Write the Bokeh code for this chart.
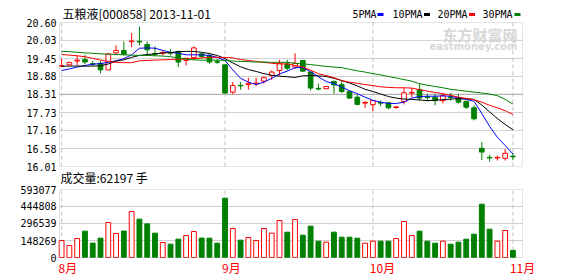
from bokeh.plotting import figure
from bokeh.models import (Range1d, FixedTicker, Label, BoxAnnotation, ColumnDataSource)
from bokeh.embed import file_html
from bokeh.resources import INLINE

# ---------------- data ----------------
title_text = "五粮液[000858] 2013-11-01"
volume_text = "成交量:62197 手"
month_idx = [0, 21, 40, 58]
month_labels = ["8月", "9月", "10月", "11月"]
price_ticks = [16.01, 16.58, 17.16, 17.73, 18.31, 18.88, 19.45, 20.03, 20.60]
volume_ticks = [0, 148269, 296539, 444808, 593077]
ma_names = ["5PMA", "10PMA", "20PMA", "30PMA"]

open_ = [19.21, 19.25, 19.37, 19.42, 19.29, 19.30, 19.09, 19.63, 19.71, 19.99,
         20.00, 19.90, 19.61, 19.62, 19.64, 19.68, 19.39, 19.48, 19.60, 19.55,
         19.35, 19.25, 18.38, 18.60, 18.62, 18.65, 18.73, 18.91, 19.07, 19.28,
         19.18, 19.39, 19.02, 18.50, 18.49, 18.72, 18.62, 18.40, 18.22, 18.03,
         17.98, 18.05, 18.04, 17.89, 18.08, 18.35, 18.46, 18.23, 18.22, 18.11,
         18.23, 18.19, 18.09, 17.88, 16.59, 16.30, 16.28, 16.27, 16.34]
close = [19.22, 19.33, 19.40, 19.34, 19.27, 19.09, 19.60, 19.71, 19.59, 20.01,
         19.98, 19.73, 19.59, 19.64, 19.62, 19.34, 19.46, 19.79, 19.52, 19.34,
         19.33, 18.35, 18.59, 18.58, 18.66, 18.67, 18.84, 19.02, 19.30, 19.14,
         19.30, 19.05, 18.51, 18.48, 18.56, 18.61, 18.40, 18.19, 17.99, 18.05,
         18.11, 18.03, 17.88, 17.91, 18.36, 18.37, 18.19, 18.21, 18.11, 18.27,
         18.21, 18.06, 17.90, 17.53, 16.47, 16.28, 16.30, 16.43, 16.32]
high = [19.44, 19.34, 19.55, 19.57, 19.37, 19.37, 19.62, 19.87, 19.99, 20.26,
        20.47, 19.99, 19.84, 19.71, 19.76, 19.70, 19.47, 19.84, 19.63, 19.62,
        19.44, 19.27, 18.70, 18.70, 18.84, 18.84, 18.88, 19.07, 19.41, 19.41,
        19.62, 19.40, 19.03, 18.65, 18.56, 18.75, 18.75, 18.41, 18.30, 18.11,
        18.12, 18.11, 18.06, 17.93, 18.51, 18.51, 18.65, 18.33, 18.33, 18.33,
        18.35, 18.33, 18.10, 17.96, 16.79, 16.39, 16.36, 16.57, 16.44]
low = [19.20, 19.24, 19.23, 19.28, 19.21, 18.98, 19.09, 19.60, 19.55, 19.81,
       19.87, 19.55, 19.52, 19.55, 19.55, 19.18, 19.23, 19.41, 19.45, 19.28,
       19.28, 18.34, 18.31, 18.46, 18.46, 18.57, 18.65, 18.77, 18.91, 19.07,
       19.12, 19.03, 18.43, 18.43, 18.49, 18.33, 18.36, 18.17, 17.96, 17.88,
       17.77, 17.93, 17.83, 17.85, 17.99, 18.22, 18.11, 18.09, 17.96, 18.02,
       18.11, 18.01, 17.85, 17.48, 16.22, 16.17, 16.20, 16.20, 16.21]
volume = [148300, 105200, 166100, 229800, 125400, 168900, 305200, 209100, 230400, 401300,
          334200, 293800, 212300, 130900, 116300, 160200, 191800, 226700, 169300, 168800,
          125200, 517400, 252900, 151200, 174400, 148100, 253200, 212100, 322700, 220900,
          331400, 194800, 273300, 142400, 133700, 221100, 177200, 176900, 168600, 125100,
          142300, 142200, 141900, 165800, 313900, 192100, 229700, 142100, 124900, 142500,
          116200, 133800, 159700, 203400, 465100, 247200, 142300, 235400, 62197]
ma5 = [19.07, 19.12, 19.18, 19.23, 19.27, 19.29, 19.33, 19.38, 19.45, 19.57,
       19.78, 19.79, 19.78, 19.71, 19.65, 19.62, 19.57, 19.57, 19.57, 19.55,
       19.49, 19.39, 19.09, 18.82, 18.70, 18.62, 18.70, 18.82, 18.96, 19.05,
       19.16, 19.16, 19.03, 18.87, 18.72, 18.65, 18.54, 18.43, 18.33, 18.22,
       18.12, 18.06, 18.02, 18.02, 18.06, 18.19, 18.24, 18.25, 18.25, 18.26,
       18.25, 18.19, 18.15, 18.09, 17.70, 17.29, 16.94, 16.68, 16.41]
ma10 = [19.21, 19.21, 19.21, 19.21, 19.21, 19.22, 19.28, 19.37, 19.41, 19.49,
        19.55, 19.58, 19.60, 19.63, 19.64, 19.67, 19.68, 19.68, 19.65, 19.61,
        19.55, 19.45, 19.31, 19.19, 19.10, 19.04, 18.97, 18.92, 18.89, 18.87,
        18.85, 18.90, 18.91, 18.90, 18.88, 18.82, 18.75, 18.67, 18.58, 18.47,
        18.40, 18.32, 18.24, 18.19, 18.16, 18.15, 18.13, 18.11, 18.12, 18.14,
        18.16, 18.17, 18.17, 18.15, 17.97, 17.75, 17.54, 17.35, 17.18]
ma20 = [19.58, 19.56, 19.54, 19.51, 19.46, 19.40, 19.36, 19.33, 19.32, 19.32,
        19.38, 19.39, 19.40, 19.41, 19.42, 19.43, 19.44, 19.45, 19.47, 19.49,
        19.49, 19.49, 19.47, 19.42, 19.39, 19.36, 19.33, 19.30, 19.28, 19.28,
        19.23, 19.18, 19.08, 18.97, 18.91, 18.84, 18.75, 18.70, 18.66, 18.62,
        18.59, 18.55, 18.53, 18.52, 18.52, 18.51, 18.46, 18.41, 18.37, 18.33,
        18.28, 18.22, 18.18, 18.14, 18.06, 17.96, 17.88, 17.79, 17.67]
ma30 = [19.68, 19.67, 19.65, 19.63, 19.62, 19.60, 19.59, 19.58, 19.57, 19.56,
        19.55, 19.55, 19.54, 19.53, 19.51, 19.47, 19.43, 19.41, 19.40, 19.40,
        19.40, 19.39, 19.37, 19.36, 19.35, 19.34, 19.34, 19.33, 19.33, 19.33,
        19.30, 19.28, 19.26, 19.23, 19.20, 19.18, 19.16, 19.11, 19.06, 19.02,
        18.97, 18.93, 18.88, 18.83, 18.78, 18.73, 18.65, 18.60, 18.56, 18.52,
        18.47, 18.44, 18.41, 18.38, 18.35, 18.32, 18.27, 18.15, 18.00]

# ---------------- styles / layout ----------------
RED = "#ff0000"
GREEN = "#008000"
BLUE = "#0000ff"
BLACK = "#000000"
MA_COLORS = [BLUE, BLACK, RED, GREEN]
GRID = "#d0d0d0"
FRAME = "#a8a8a8"
VGRID = "#c0c0c0"
CJK = "Noto Sans CJK SC"
MONO = "DejaVu Sans Mono"

W, H = 578, 276
FRAME_L = 56                 # left edge of the drawing frame (axis labels end here)
BOX_L, BOX_R = 59, 522       # plotting boxes, x pixels
PRICE_T, PRICE_B = 22, 166   # price box, y pixels from top
VOL_T, VOL_B = 189, 257      # volume box, y pixels from top

n = len(close)
idx = list(range(n))
up = [c >= o for o, c in zip(open_, close)]
src = ColumnDataSource(dict(
    x=idx, h=high, l=low,
    top=[max(o, c) for o, c in zip(open_, close)],
    bot=[min(o, c) for o, c in zip(open_, close)],
    color=[RED if u else GREEN for u in up],
    fill=["#ffffff" if u else GREEN for u in up],
    vol=volume, ma5=ma5, ma10=ma10, ma20=ma20, ma30=ma30,
))

# x: inner extent in bar units, widened to the whole frame
x0, x1 = -0.27, n - 1 + 1.23
upp = (x1 - x0) / (BOX_R - BOX_L)
xr = Range1d(x0 - (BOX_L - FRAME_L) * upp, x1 + (W - BOX_R) * upp)

# price scale (main y range) spanning the whole canvas height
p_lo, p_hi = price_ticks[0], price_ticks[-1]
ppp = (p_hi - p_lo) / (PRICE_B - PRICE_T)
pr = Range1d(p_hi - (H - PRICE_T) * ppp, p_hi + PRICE_T * ppp)

# volume scale (extra y range) spanning the whole canvas height
v_lo, v_hi = volume_ticks[0], volume_ticks[-1]
vpp = (v_hi - v_lo) / (VOL_B - VOL_T)
vr = Range1d(v_lo - (H - VOL_B) * vpp, v_hi + VOL_T * vpp)


def vol_in_price_units(v):
    py = VOL_B - (v - v_lo) / vpp
    return p_hi - (py - PRICE_T) * ppp


p = figure(width=W, height=H, x_range=xr, y_range=pr, x_axis_type=None,
           output_backend="svg", toolbar_location=None,
           min_border_left=FRAME_L, min_border_right=0, min_border_top=0, min_border_bottom=0)
p.extra_y_ranges = {"vol": vr}
p.outline_line_color = None
p.background_fill_color = "#ffffff"
p.border_fill_color = "#ffffff"
p.ygrid.grid_line_color = None

# one left axis carries both the price and the volume tick labels
tick_labels = {t: f"{t:.2f}" for t in price_ticks}
tick_labels.update({vol_in_price_units(v): str(v) for v in volume_ticks})
ax = p.yaxis[0]
ax.ticker = FixedTicker(ticks=list(tick_labels.keys()))
ax.major_label_overrides = tick_labels
ax.axis_line_color = None
ax.major_tick_line_color = None
ax.minor_tick_line_color = None
ax.major_tick_out = 0
ax.major_tick_in = 0
ax.minor_tick_out = 0
ax.minor_tick_in = 0
ax.major_label_text_font = MONO
ax.major_label_text_font_size = "10px"
ax.major_label_text_color = "#000000"
ax.major_label_standoff = 0


def label(x, y, text, dx=0, dy=0, align="left", font=CJK, size="12px",
          color="#000000", style="normal", yname="default"):
    p.add_layout(Label(x=x, y=y, x_offset=dx, y_offset=dy, text=text, y_range_name=yname,
                       text_align=align, text_baseline="middle", text_font=font,
                       text_font_size=size, text_color=color, text_font_style=style))


def grid_and_box(ticks, mid_tick=None, yname="default"):
    lo, hi = ticks[0], ticks[-1]
    inner = [t for t in ticks[1:-1] if t != mid_tick]
    p.segment(x0=[x0] * len(inner), y0=inner, x1=[x1] * len(inner), y1=inner,
              color=GRID, line_width=1, y_range_name=yname)
    if mid_tick is not None:
        p.segment(x0=[x0], y0=[mid_tick], x1=[x1], y1=[mid_tick], color="#a0a0a0",
                  line_width=1, y_range_name=yname)
    p.segment(x0=month_idx, y0=[lo] * len(month_idx), x1=month_idx, y1=[hi] * len(month_idx),
              color=VGRID, line_width=1, line_dash="4 3", y_range_name=yname)
    p.add_layout(BoxAnnotation(left=x0, right=x1, bottom=lo, top=hi, fill_color=None,
                               fill_alpha=0, line_color=FRAME, line_width=1,
                               y_range_name=yname))


# ---------------- price panel ----------------
grid_and_box(price_ticks, mid_tick=price_ticks[len(price_ticks) // 2])

label(x1, p_hi, "东方财富网", dx=-5, dy=-12, align="right", size="15px",
      color="#d8d8d8", style="bold")
label(x1, p_hi, "eastmoney.com", dx=-5, dy=-24, align="right",
      font="DejaVu Sans", size="10px", color="#d8d8d8", style="bold")

p.segment(x0="x", y0="h", x1="x", y1="l", color="color", line_width=1, source=src)
p.vbar(x="x", top="top", bottom="bot", width=0.6, fill_color="fill",
       line_color="color", line_width=1, source=src)
for col, c in zip(["ma5", "ma10", "ma20", "ma30"], MA_COLORS):
    p.line("x", col, color=c, line_width=1, source=src)

label(x0, p_hi, title_text, dx=3, dy=9)
leg_dx = [-170, -130, -85, -40]           # legend text left edges, px from box right
mark_dx = [-142, -95.5, -50.5, -5]        # legend swatch centres, px from box right
p.rect(x=[x1 + d * upp for d in mark_dx], y=[p_hi + 8 * ppp] * 4,
       width=6, height=3, width_units="screen", height_units="screen",
       fill_color=MA_COLORS, line_color=None)
for name, lx in zip(ma_names, leg_dx):
    label(x1, p_hi, name, dx=lx, dy=8, font=MONO, size="10px")

# ---------------- volume panel ----------------
grid_and_box(volume_ticks, yname="vol")
p.vbar(x="x", top="vol", bottom=0, width=0.62, fill_color="fill",
       line_color="color", line_width=1, source=src, y_range_name="vol")

label(x0, v_hi, volume_text, dx=1, dy=12, yname="vol")
for mi, ml in zip(month_idx, month_labels):
    label(mi, v_lo, ml, dx=-3, dy=-10, color=RED, yname="vol")

open("out.html", "w").write(file_html(p, INLINE))
